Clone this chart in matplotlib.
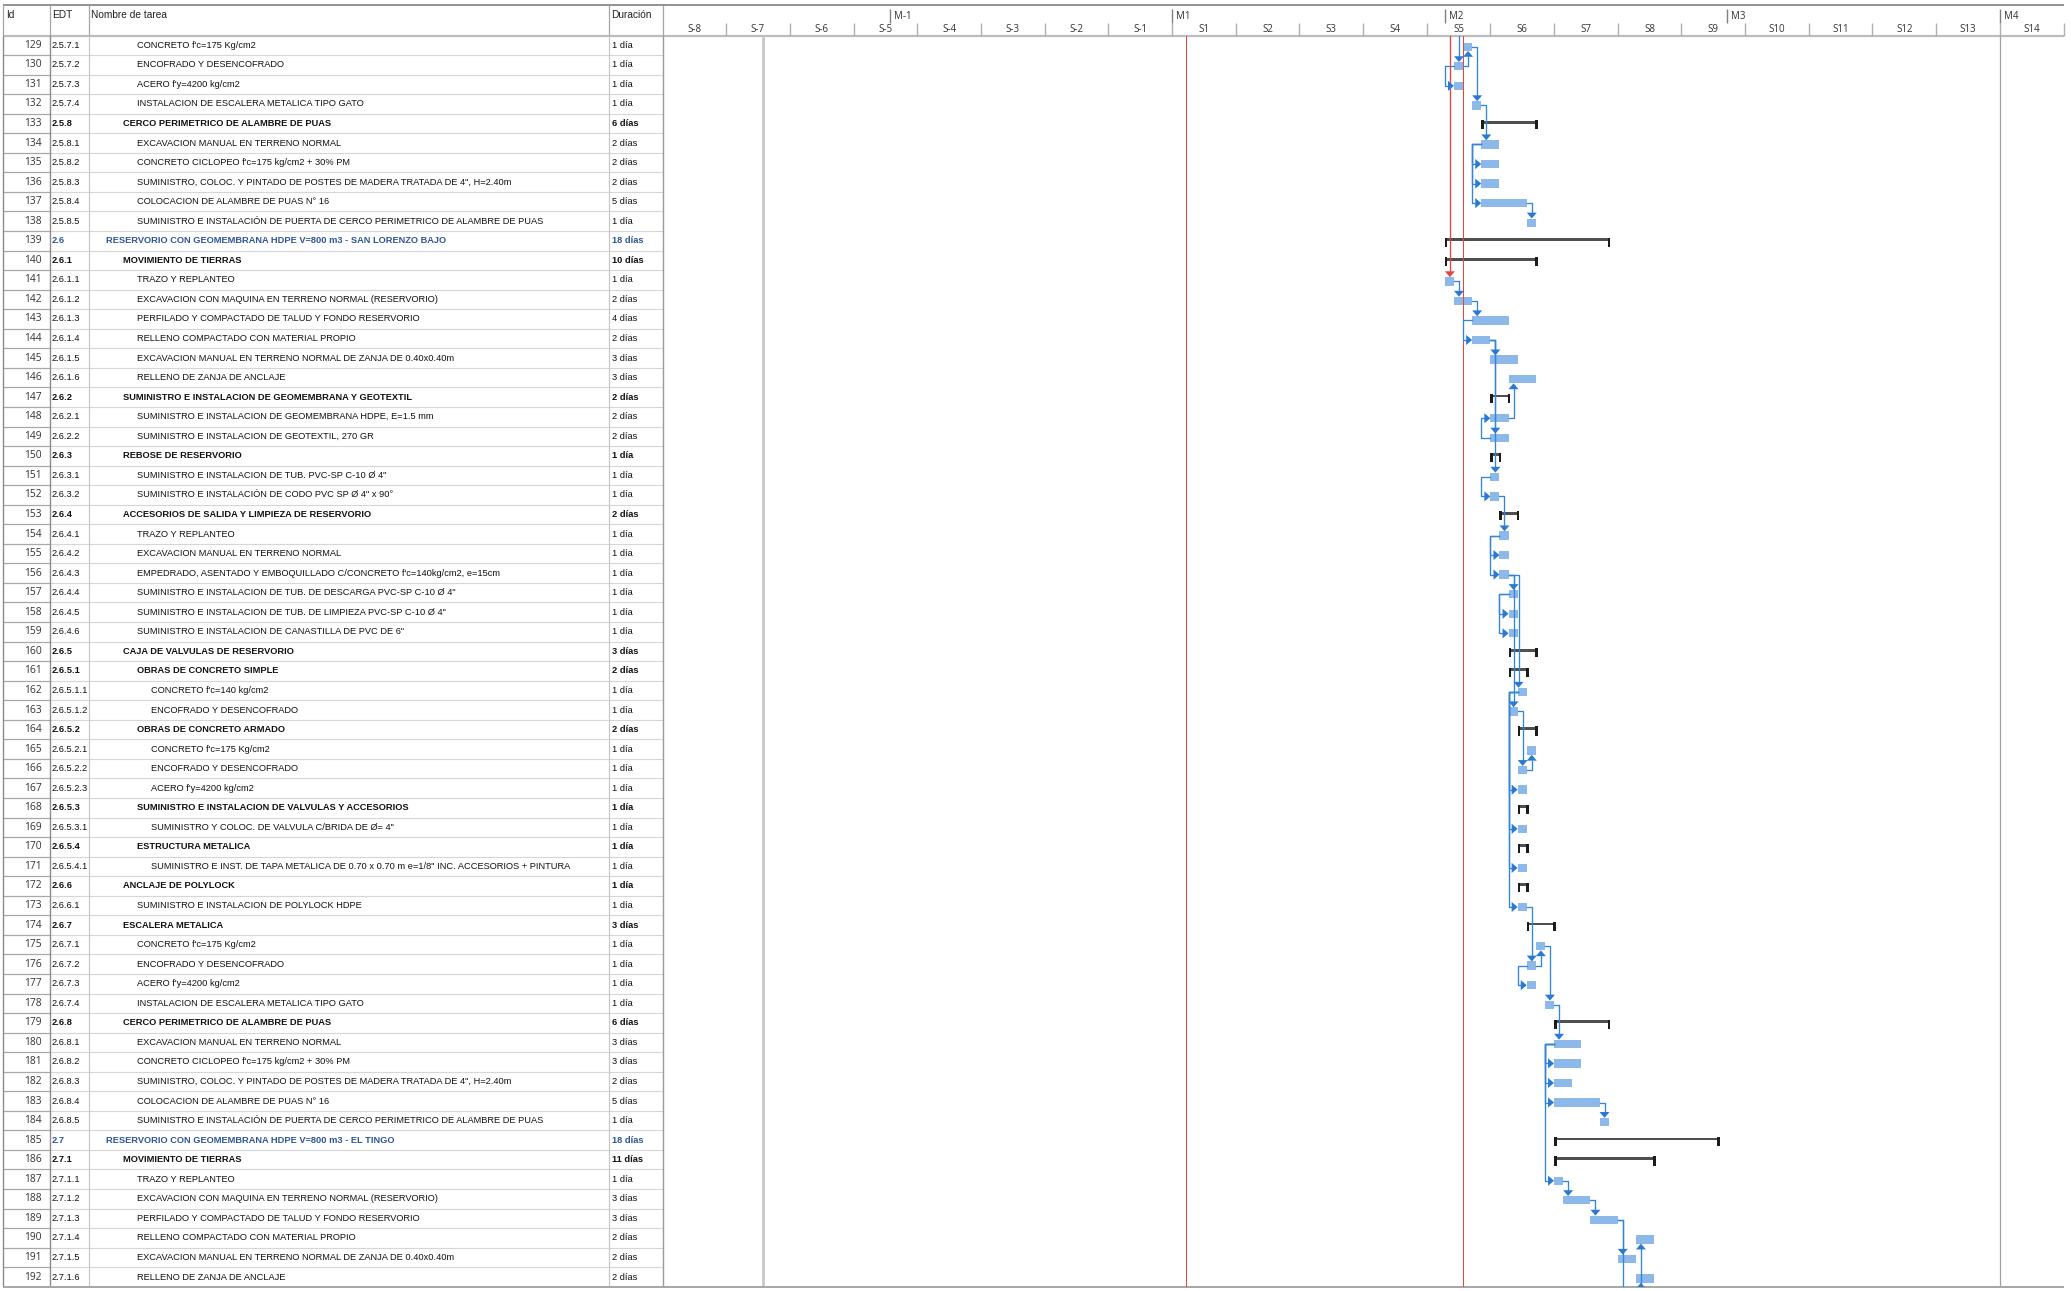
import matplotlib.pyplot as plt
from matplotlib import font_manager
from matplotlib.patches import Polygon

# ---------------- data ----------------
ids = list(range(129, 193))
edt = [
    "2.5.7.1", "2.5.7.2", "2.5.7.3", "2.5.7.4", "2.5.8", "2.5.8.1", "2.5.8.2", "2.5.8.3", "2.5.8.4", "2.5.8.5",
    "2.6", "2.6.1", "2.6.1.1", "2.6.1.2", "2.6.1.3", "2.6.1.4", "2.6.1.5", "2.6.1.6",
    "2.6.2", "2.6.2.1", "2.6.2.2", "2.6.3", "2.6.3.1", "2.6.3.2",
    "2.6.4", "2.6.4.1", "2.6.4.2", "2.6.4.3", "2.6.4.4", "2.6.4.5", "2.6.4.6",
    "2.6.5", "2.6.5.1", "2.6.5.1.1", "2.6.5.1.2", "2.6.5.2", "2.6.5.2.1", "2.6.5.2.2", "2.6.5.2.3",
    "2.6.5.3", "2.6.5.3.1", "2.6.5.4", "2.6.5.4.1", "2.6.6", "2.6.6.1",
    "2.6.7", "2.6.7.1", "2.6.7.2", "2.6.7.3", "2.6.7.4",
    "2.6.8", "2.6.8.1", "2.6.8.2", "2.6.8.3", "2.6.8.4", "2.6.8.5",
    "2.7", "2.7.1", "2.7.1.1", "2.7.1.2", "2.7.1.3", "2.7.1.4", "2.7.1.5", "2.7.1.6",
]
names = [
    "CONCRETO f'c=175 Kg/cm2",
    "ENCOFRADO Y DESENCOFRADO",
    "ACERO f'y=4200 kg/cm2",
    "INSTALACION DE ESCALERA METALICA TIPO GATO",
    "CERCO PERIMETRICO DE ALAMBRE DE PUAS",
    "EXCAVACION MANUAL EN TERRENO NORMAL",
    "CONCRETO CICLOPEO f'c=175 kg/cm2 + 30% PM",
    "SUMINISTRO, COLOC. Y PINTADO DE POSTES DE MADERA TRATADA DE 4\", H=2.40m",
    "COLOCACION DE ALAMBRE DE PUAS N° 16",
    "SUMINISTRO E INSTALACIÓN DE PUERTA DE CERCO PERIMETRICO DE ALAMBRE DE PUAS",
    "RESERVORIO CON GEOMEMBRANA HDPE V=800 m3 - SAN LORENZO BAJO",
    "MOVIMIENTO DE TIERRAS",
    "TRAZO Y REPLANTEO",
    "EXCAVACION CON MAQUINA EN TERRENO NORMAL (RESERVORIO)",
    "PERFILADO Y COMPACTADO DE TALUD Y FONDO RESERVORIO",
    "RELLENO COMPACTADO CON MATERIAL PROPIO",
    "EXCAVACION MANUAL EN TERRENO NORMAL DE ZANJA DE 0.40x0.40m",
    "RELLENO DE ZANJA DE ANCLAJE",
    "SUMINISTRO E INSTALACION DE GEOMEMBRANA Y GEOTEXTIL",
    "SUMINISTRO E INSTALACION DE GEOMEMBRANA HDPE, E=1.5 mm",
    "SUMINISTRO E INSTALACION DE GEOTEXTIL, 270 GR",
    "REBOSE DE RESERVORIO",
    "SUMINISTRO E INSTALACION DE TUB. PVC-SP C-10 Ø 4\"",
    "SUMINISTRO E INSTALACIÓN DE CODO PVC SP Ø 4\" x 90°",
    "ACCESORIOS DE SALIDA Y LIMPIEZA DE RESERVORIO",
    "TRAZO Y REPLANTEO",
    "EXCAVACION MANUAL EN TERRENO NORMAL",
    "EMPEDRADO, ASENTADO Y EMBOQUILLADO C/CONCRETO f'c=140kg/cm2, e=15cm",
    "SUMINISTRO E INSTALACION DE TUB. DE DESCARGA PVC-SP C-10 Ø 4\"",
    "SUMINISTRO E INSTALACION DE TUB. DE LIMPIEZA PVC-SP C-10 Ø 4\"",
    "SUMINISTRO E INSTALACION DE CANASTILLA DE PVC DE 6\"",
    "CAJA DE VALVULAS DE RESERVORIO",
    "OBRAS DE CONCRETO SIMPLE",
    "CONCRETO f'c=140 kg/cm2",
    "ENCOFRADO Y DESENCOFRADO",
    "OBRAS DE CONCRETO ARMADO",
    "CONCRETO f'c=175 Kg/cm2",
    "ENCOFRADO Y DESENCOFRADO",
    "ACERO f'y=4200 kg/cm2",
    "SUMINISTRO E INSTALACION DE VALVULAS Y ACCESORIOS",
    "SUMINISTRO Y COLOC. DE VALVULA C/BRIDA DE Ø= 4\"",
    "ESTRUCTURA METALICA",
    "SUMINISTRO E INST. DE TAPA METALICA DE 0.70 x 0.70 m e=1/8\" INC. ACCESORIOS + PINTURA",
    "ANCLAJE DE POLYLOCK",
    "SUMINISTRO E INSTALACION DE POLYLOCK HDPE",
    "ESCALERA METALICA",
    "CONCRETO f'c=175 Kg/cm2",
    "ENCOFRADO Y DESENCOFRADO",
    "ACERO f'y=4200 kg/cm2",
    "INSTALACION DE ESCALERA METALICA TIPO GATO",
    "CERCO PERIMETRICO DE ALAMBRE DE PUAS",
    "EXCAVACION MANUAL EN TERRENO NORMAL",
    "CONCRETO CICLOPEO f'c=175 kg/cm2 + 30% PM",
    "SUMINISTRO, COLOC. Y PINTADO DE POSTES DE MADERA TRATADA DE 4\", H=2.40m",
    "COLOCACION DE ALAMBRE DE PUAS N° 16",
    "SUMINISTRO E INSTALACIÓN DE PUERTA DE CERCO PERIMETRICO DE ALAMBRE DE PUAS",
    "RESERVORIO CON GEOMEMBRANA HDPE V=800 m3 - EL TINGO",
    "MOVIMIENTO DE TIERRAS",
    "TRAZO Y REPLANTEO",
    "EXCAVACION CON MAQUINA EN TERRENO NORMAL (RESERVORIO)",
    "PERFILADO Y COMPACTADO DE TALUD Y FONDO RESERVORIO",
    "RELLENO COMPACTADO CON MATERIAL PROPIO",
    "EXCAVACION MANUAL EN TERRENO NORMAL DE ZANJA DE 0.40x0.40m",
    "RELLENO DE ZANJA DE ANCLAJE",
]
dur_days = [
    1, 1, 1, 1, 6, 2, 2, 2, 5, 1,
    18, 10, 1, 2, 4, 2, 3, 3,
    2, 2, 2, 1, 1, 1,
    2, 1, 1, 1, 1, 1, 1,
    3, 2, 1, 1, 2, 1, 1, 1,
    1, 1, 1, 1, 1, 1,
    3, 1, 1, 1, 1,
    6, 3, 3, 2, 5, 1,
    18, 11, 1, 3, 3, 2, 2, 2,
]
# start day, counted from the first day of S1 / M1
start_day = [
    32, 31, 31, 33, 34, 34, 34, 34, 34, 39,
    30, 30, 30, 31, 33, 33, 35, 37,
    35, 35, 35, 35, 35, 35,
    36, 36, 36, 36, 37, 37, 37,
    37, 37, 38, 37, 38, 39, 38, 38,
    38, 38, 38, 38, 38, 38,
    39, 40, 39, 39, 41,
    42, 42, 42, 42, 42, 47,
    42, 42, 42, 43, 46, 51, 49, 51,
]
summary_ids = [133, 139, 140, 147, 150, 153, 160, 161, 164, 168, 170, 172, 174, 179, 185, 186]

# dependencies (predecessor id, successor id)
fs_links = [
    (130, 129), (129, 132), (132, 134), (137, 138), (141, 142), (142, 143), (144, 145),
    (144, 149), (144, 151), (148, 146), (152, 154), (156, 157), (156, 163), (156, 162),
    (163, 166), (166, 165), (173, 176), (176, 175), (175, 178), (178, 180), (183, 184),
    (187, 188), (188, 189), (189, 191),
]
ss_links = [
    (130, 131), (134, 135), (134, 136), (134, 137), (143, 144), (149, 148), (151, 152),
    (154, 155), (154, 156), (157, 158), (157, 159), (162, 167), (162, 169), (162, 171),
    (162, 173), (176, 177), (180, 181), (180, 182), (180, 183), (180, 187),
]
# links to tasks outside the visible rows: (predecessor finish day, successor id)
from_above = [(31, 130)]
from_above_critical = [(30, 141)]
to_below = [189]
from_below = [(51, 192), (51, 190)]

week_labels = ["S-8", "S-7", "S-6", "S-5", "S-4", "S-3", "S-2", "S-1",
               "S1", "S2", "S3", "S4", "S5", "S6", "S7", "S8", "S9", "S10", "S11", "S12", "S13", "S14"]
month_labels = ["M-1", "M1", "M2", "M3", "M4"]
month_days = [-31, 0, 30, 61, 91]
red_line_days = [1.5, 32]
gray_line_day = -45
page_break_day = 91

# ---------------- layout ----------------
W, H = 2071, 1291
X0, X1 = 662.5, 2063.5      # gantt area in pixels
TOP, BOT = 35.5, 1286.8     # rows area in pixels
D0, D1 = -56, 98
n = len(ids)

avail = {f.name for f in font_manager.fontManager.ttflist}
NARROW = "Liberation Sans Narrow" if "Liberation Sans Narrow" in avail else "Liberation Sans"
FS = 7.8 if NARROW == "Liberation Sans Narrow" else 6.7
UI = "Open Sans"

BAR_C = "#8CB9EA"
LINK_C = "#3385DB"
HEAD_C = "#2A7AD3"
RED_C = "#E2463D"
BLUE_TXT = "#2E5597"

fig = plt.figure(figsize=(W / 100, H / 100), dpi=100)


def px_axes(x0, y0, x1, y1):
    ax = fig.add_axes([x0 / W, 1 - y1 / H, (x1 - x0) / W, (y1 - y0) / H])
    ax.axis("off")
    return ax


ax_th = px_axes(0, 0, X0, TOP)
ax_th.set_xlim(0, X0)
ax_th.set_ylim(TOP, 0)
ax_gh = px_axes(X0, 0, X1, TOP)
ax_gh.set_xlim(D0, D1)
ax_gh.set_ylim(TOP, 0)
ax_t = px_axes(0, TOP, X0, BOT)
ax_t.set_xlim(0, X0)
ax_t.set_ylim(n - 0.5, -0.5)
ax_g = px_axes(X0, TOP, X1, BOT)
ax_g.set_xlim(D0, D1)
ax_g.set_ylim(n - 0.5, -0.5)

# ---------------- table header ----------------
ax_th.hlines(5, 3, X0, color="#7F7F7F", lw=1.2, clip_on=False)
ax_th.hlines(TOP, 3, X0, color="#BDBDBD", lw=1.6, clip_on=False)
ax_th.vlines([3, 50, 89, 609], 5, TOP, color="#A6A6A6", lw=0.9)
ax_th.vlines([X0], 5, TOP, color="#A6A6A6", lw=0.9, clip_on=False)
for x, lab in [(6, "Id"), (52, "EDT"), (91, "Nombre de tarea"), (611, "Duración")]:
    ax_th.text(x, 15.5, lab, family=NARROW, fontsize=FS + 0.6, ha="left", va="center", color="#222222")

# ---------------- timeline header ----------------
ax_gh.hlines(5, D0, D1, color="#7F7F7F", lw=1.2, clip_on=False)
ax_gh.hlines(TOP, D0, D1, color="#BDBDBD", lw=1.6, clip_on=False)
week_edges = list(range(D0 + 7, D1 + 1, 7))
ax_gh.vlines(week_edges, 22.5, TOP, color="#B0B0B0", lw=1.0, clip_on=False)
ax_gh.vlines(month_days, 9, 22.5, color="#808080", lw=1.0)
for m, lab in zip(month_days, month_labels):
    ax_gh.text(m + 0.45, 16.5, lab, family=UI, fontsize=7, ha="left", va="center", color="#333333")
for k, lab in enumerate(week_labels):
    ax_gh.text(D0 + 7 * k + 3.5, 30, lab, family=UI, fontsize=7, ha="center", va="center", color="#333333")

# ---------------- table body ----------------
ax_t.hlines([i + 0.5 for i in range(n)], 50, X0, color="#D6D6D6", lw=0.8)
ax_t.hlines([i + 0.5 for i in range(n)], 3, 50, color="#A8A8A8", lw=0.9)
ax_t.vlines([3, 50], -0.5, n - 0.5, color="#8C8C8C", lw=1.0)
ax_t.vlines([89, 609], -0.5, n - 0.5, color="#C8C8C8", lw=0.9)
ax_t.vlines([X0], -0.5, n - 0.5, color="#9A9A9A", lw=1.0, clip_on=False)
ax_t.hlines(n - 0.5, 3, X0, color="#A6A6A6", lw=1.4, clip_on=False)

indent = {1: 106, 2: 123, 3: 137, 4: 151}
for i, (tid, code, name, d) in enumerate(zip(ids, edt, names, dur_days)):
    level = code.count(".")
    col = BLUE_TXT if level == 1 else "#111111"
    wt = "bold" if tid in summary_ids else "normal"
    dur_txt = "1 día" if d == 1 else f"{d} días"
    ax_t.text(42, i, str(tid), family=UI, fontsize=7.4, ha="right", va="center", color="#333333")
    ax_t.text(52, i, code, family=NARROW, fontsize=FS, weight=wt, ha="left", va="center", color=col)
    ax_t.text(indent[level], i, name, family=NARROW, fontsize=FS, weight=wt, ha="left", va="center", color=col)
    ax_t.text(612, i, dur_txt, family=NARROW, fontsize=FS, weight=wt, ha="left", va="center", color=col)

# ---------------- gantt body ----------------
ax_g.axvline(gray_line_day, color="#C8C8C8", lw=2.0, zorder=1)
ax_g.axvline(page_break_day, color="#A0A0A0", lw=0.9, zorder=1)
for d in red_line_days:
    ax_g.axvline(d, color=RED_C, lw=0.75, zorder=4)
ax_g.hlines(n - 0.5, D0, D1, color="#A6A6A6", lw=1.4, clip_on=False)

row = {tid: k for k, tid in enumerate(ids)}
start = dict(zip(ids, start_day))
finish = {tid: s + d for tid, s, d in zip(ids, start_day, dur_days)}

for tid in ids:
    i = row[tid]
    s, f = start[tid], finish[tid]
    if tid in summary_ids:
        ax_g.barh(i - 0.06, f - s, left=s, height=0.14, color="#4F4F4F", zorder=3)
        ax_g.barh(i + 0.07, 0.28, left=s, height=0.47, color="#1C1C1C", zorder=3)
        ax_g.barh(i + 0.07, 0.28, left=f - 0.08, height=0.47, color="#1C1C1C", zorder=3)
    else:
        ax_g.barh(i + 0.075, f - s, left=s, height=0.43, color=BAR_C, zorder=3)

AW, AH = 0.55, 0.30      # down/up arrow half width (days), length (rows)
AL, AHH = 0.66, 0.26     # right arrow length (days), half height (rows)
LW = 0.95


def mid(i):
    return i + 0.075


def head(x, y, direction, color=HEAD_C):
    if direction == "down":
        pts = [(x - AW, y - AH), (x + AW, y - AH), (x, y)]
    elif direction == "up":
        pts = [(x - AW, y + AH), (x + AW, y + AH), (x, y)]
    else:
        pts = [(x - AL, y - AHH), (x - AL, y + AHH), (x, y)]
    ax_g.add_patch(Polygon(pts, closed=True, facecolor=color, edgecolor="none", zorder=6))


for p, s in fs_links:
    i, j = row[p], row[s]
    xe = finish[p]
    xv = max(xe + 0.55, start[s] + 0.1)
    if j > i:
        yt = j - 0.14
        ax_g.plot([xe, xv, xv], [mid(i), mid(i), yt - AH], color=LINK_C, lw=LW, zorder=5)
        head(xv, yt, "down")
    else:
        yb = j + 0.29
        ax_g.plot([xe, xv, xv], [mid(i), mid(i), yb + AH], color=LINK_C, lw=LW, zorder=5)
        head(xv, yb, "up")

for p, s in ss_links:
    i, j = row[p], row[s]
    xv = min(start[p], start[s]) - 1.0
    ax_g.plot([start[p], xv, xv, start[s] - AL], [mid(i), mid(i), mid(j), mid(j)],
              color=LINK_C, lw=LW, zorder=5)
    head(start[s], mid(j), "right")

for links, lc, hc in [(from_above, LINK_C, HEAD_C), (from_above_critical, RED_C, RED_C)]:
    for pf, s in links:
        j = row[s]
        xv = pf + 0.55
        ax_g.plot([xv, xv], [-0.5, j - 0.14 - AH], color=lc, lw=LW, zorder=5)
        head(xv, j - 0.14, "down", hc)

for p in to_below:
    i = row[p]
    xv = finish[p] + 0.55
    ax_g.plot([finish[p], xv, xv], [mid(i), mid(i), n - 0.5], color=LINK_C, lw=LW, zorder=5)

for pf, s in from_below:
    j = row[s]
    xv = pf + 0.55
    ax_g.plot([xv, xv], [n - 0.5, j + 0.29 + AH], color=LINK_C, lw=LW, zorder=5)
    head(xv, j + 0.29, "up")

fig.savefig("out.png", dpi=100)
